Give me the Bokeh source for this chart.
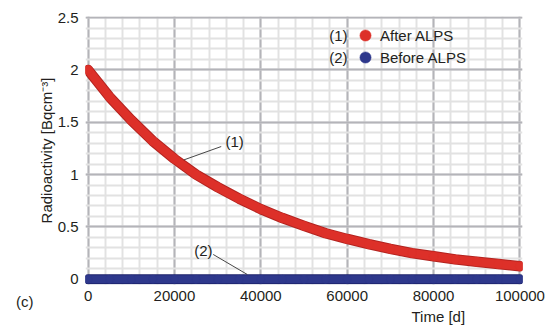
from bokeh.plotting import figure
from bokeh.models import (Range1d, FixedTicker, CustomJSTickFormatter, Legend,
                          LegendItem, Label, Arrow, ColumnDataSource, Title, LinearAxis)
from bokeh.embed import file_html
from bokeh.resources import INLINE

# ---- data ----
time_d = [0, 5000, 10000, 15000, 20000, 25000, 30000, 35000, 40000, 45000, 50000,
          55000, 60000, 65000, 70000, 75000, 80000, 85000, 90000, 95000, 100000]
after_alps = [2.00, 1.74, 1.52, 1.32, 1.15, 1.00, 0.88, 0.77, 0.67, 0.585, 0.51,
              0.44, 0.385, 0.335, 0.29, 0.25, 0.22, 0.19, 0.167, 0.145, 0.125]
before_alps = [0.0, 0.0, 0.0, 0.0, 0.0, 0.0, 0.0, 0.0, 0.0, 0.0, 0.0,
               0.0, 0.0, 0.0, 0.0, 0.0, 0.0, 0.0, 0.0, 0.0, 0.0]

x_ticks = [0, 20000, 40000, 60000, 80000, 100000]
x_tick_labels = ["0", "20000", "40000", "60000", "80000", "100000"]
y_ticks = [0, 0.5, 1, 1.5, 2, 2.5]
y_tick_labels = ["0", "0.5", "1", "1.5", "2", "2.5"]
series_names = ["After ALPS", "Before ALPS"]
series_tags = ["(1)", "(2)"]
panel_tag = "(c)"

FONT = "Liberation Sans"
TXT = "#231f20"
RED = "#dd3029"
RED_EDGE = "#b32420"
BLUE = "#2e388c"
BLUE_EDGE = "#1d226b"

src = ColumnDataSource(dict(t=time_d, a=after_alps, b=before_alps))

p = figure(width=548, height=327, x_range=Range1d(-600, 100600),
           y_range=Range1d(-0.05, 2.51), output_backend="svg",
           toolbar_location=None, min_border_left=85, min_border_right=26,
           min_border_top=16, min_border_bottom=43)
p.outline_line_color = None
p.background_fill_color = "white"

xt = FixedTicker(ticks=x_ticks, minor_ticks=list(range(0, 100001, 4000)))
yt = FixedTicker(ticks=y_ticks, minor_ticks=[i / 10 for i in range(26)])

fmt_code = """
const i = tvals.indexOf(tick);
return i >= 0 ? tlabels[i] : tick.toString();
"""
p.xaxis.ticker = xt
p.yaxis.ticker = yt
p.xaxis.formatter = CustomJSTickFormatter(args=dict(tvals=x_ticks, tlabels=x_tick_labels), code=fmt_code)
p.yaxis.formatter = CustomJSTickFormatter(args=dict(tvals=y_ticks, tlabels=y_tick_labels), code=fmt_code)
p.xgrid.ticker = xt
p.ygrid.ticker = yt

for g in (p.xgrid, p.ygrid):
    g.grid_line_color = "#b4b4b9"
    g.grid_line_width = 2
    g.minor_grid_line_color = "#e2e2e2"
    g.minor_grid_line_width = 2


def style_axis(ax):
    ax.axis_line_color = None
    ax.major_tick_line_color = None
    ax.minor_tick_line_color = None
    ax.major_tick_in = 0
    ax.major_tick_out = 0
    ax.minor_tick_in = 0
    ax.minor_tick_out = 0
    ax.major_label_text_font = FONT
    ax.major_label_text_font_size = "15px"
    ax.major_label_text_color = TXT


for ax in (p.xaxis, p.yaxis):
    style_axis(ax)

p.xaxis.major_label_standoff = 6
p.yaxis.major_label_standoff = 7
p.yaxis.axis_label = "Radioactivity [Bqcm\u207b\u00b3]"
p.yaxis.axis_label_text_font = FONT
p.yaxis.axis_label_text_font_size = "15px"
p.yaxis.axis_label_text_font_style = "normal"
p.yaxis.axis_label_text_color = TXT
p.yaxis.axis_label_standoff = 0

# Before ALPS (blue band)
p.line("t", "b", source=src, line_width=10, line_color=BLUE_EDGE, line_cap="round")
p.line("t", "b", source=src, line_width=8, line_color=BLUE, line_cap="round")
r_blue = p.scatter("t", "b", source=src, size=8, fill_color=BLUE, line_color=BLUE, line_width=0.5)

# After ALPS (red band)
p.line("t", "a", source=src, line_width=10.5, line_color=RED_EDGE, line_cap="round", line_join="round")
p.line("t", "a", source=src, line_width=8.5, line_color=RED, line_cap="round", line_join="round")
r_red = p.scatter("t", "a", source=src, size=9, fill_color=RED, line_color=RED, line_width=0.5)

leg_common = dict(glyph_width=28, glyph_height=28, label_height=28, spacing=0,
                  padding=0, margin=0, label_standoff=1,
                  background_fill_alpha=0, border_line_color=None,
                  label_text_font=FONT, label_text_font_size="15px", label_text_color=TXT)
p.add_layout(Legend(items=[LegendItem(label=series_names[0], renderers=[r_red])],
                    location=(266, 235), **leg_common))
p.add_layout(Legend(items=[LegendItem(label=series_names[1], renderers=[r_blue])],
                    location=(266, 213), **leg_common))

# legend tags
for tag, yv in zip(series_tags, [2.328, 2.118]):
    p.add_layout(Label(x=60075, y=yv, text=tag, text_align="right", text_baseline="middle",
                       text_font=FONT, text_font_size="15px", text_color=TXT))

# callouts
p.add_layout(Arrow(end=None, x_start=22165, y_start=1.14, x_end=30826, y_end=1.268,
                   line_color="#333333", line_width=0.9))
p.add_layout(Label(x=31820, y=1.316, text="(1)", text_align="left", text_baseline="middle",
                   text_font=FONT, text_font_size="15px", text_color=TXT))
p.add_layout(Arrow(end=None, x_start=28974, y_start=0.237, x_end=36848, y_end=0.046,
                   line_color="#333333", line_width=0.9))
p.add_layout(Label(x=28812, y=0.275, text="(2)", text_align="right", text_baseline="middle",
                   text_font=FONT, text_font_size="15px", text_color=TXT))

# panel tag "(c)": outer left axis with a single tick at the frame bottom
p.extra_y_ranges = {"tag": Range1d(0, 1)}
tag_axis = LinearAxis(y_range_name="tag", ticker=FixedTicker(ticks=[0]),
                      formatter=CustomJSTickFormatter(args=dict(tag=panel_tag),
                                                      code="return '\\n\\n' + tag;"))
style_axis(tag_axis)
tag_axis.major_label_standoff = 1
tag_axis.major_label_text_line_height = 1.0
p.add_layout(tag_axis, "left")

# x axis title
p.add_layout(Title(text="Time [d]", align="left", offset=326, standoff=4,
                   text_font=FONT, text_font_size="15px", text_font_style="normal",
                   text_color=TXT), "below")

open("out.html", "w").write(file_html(p, INLINE))
